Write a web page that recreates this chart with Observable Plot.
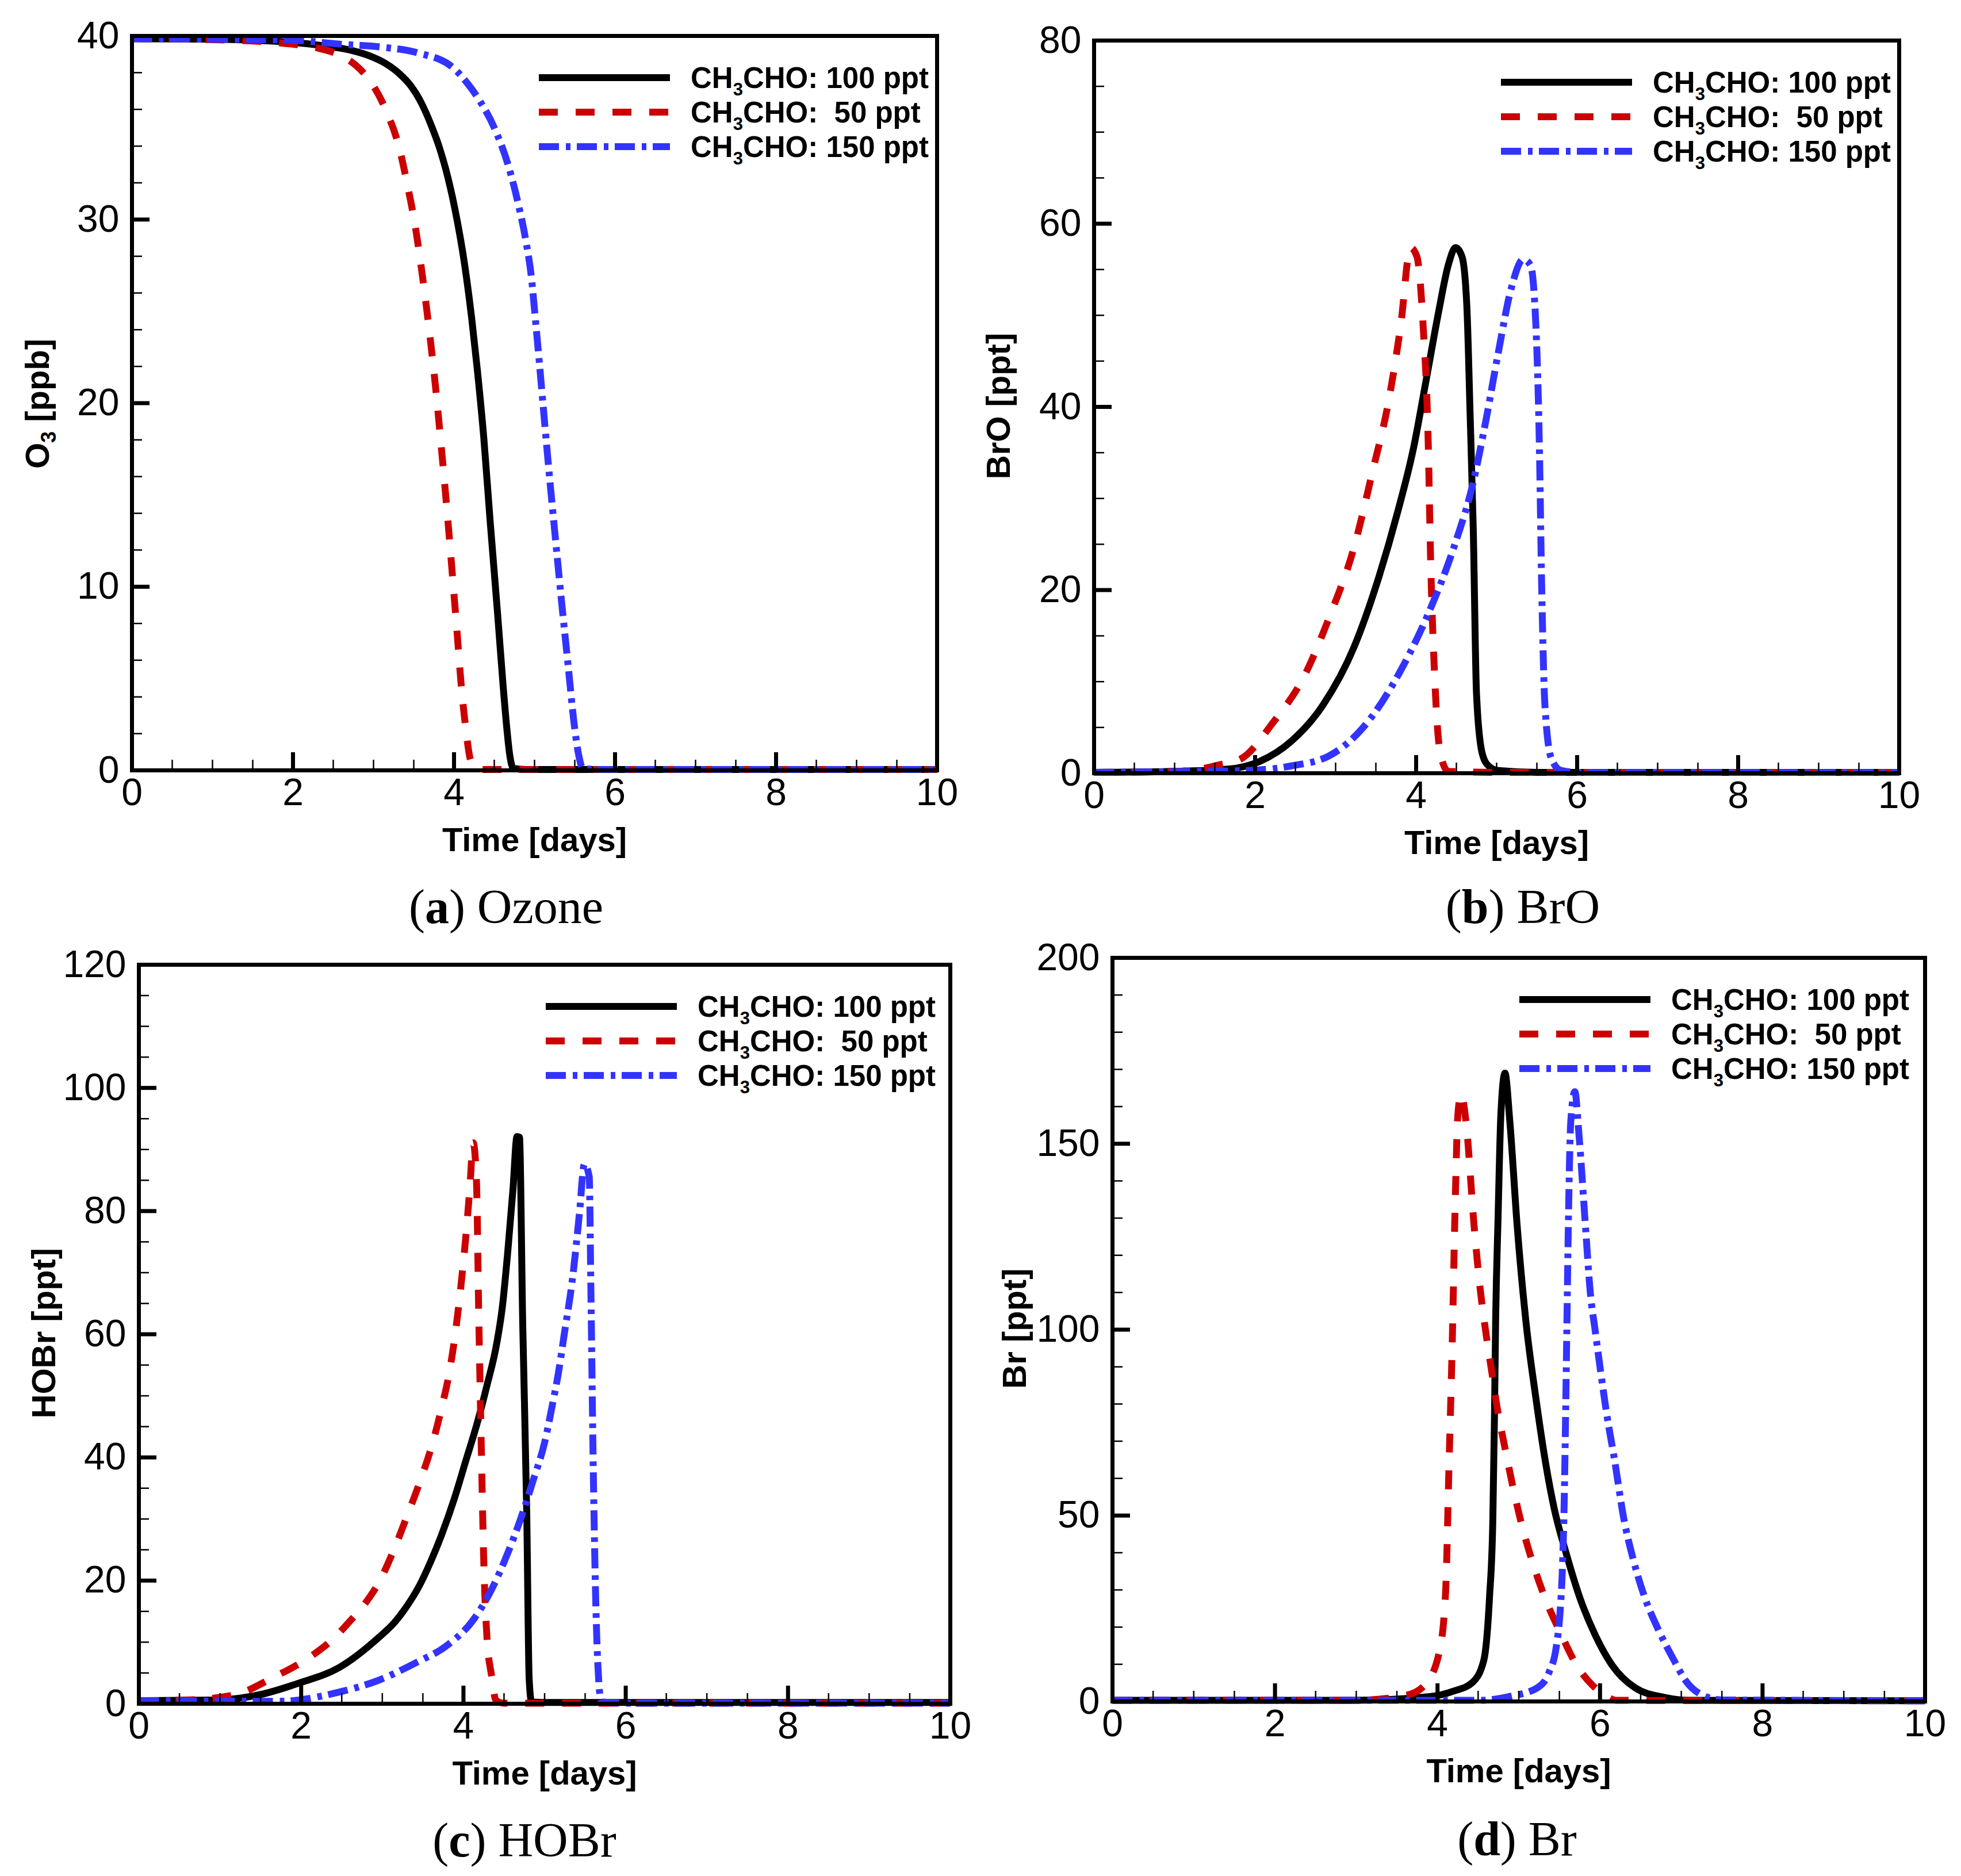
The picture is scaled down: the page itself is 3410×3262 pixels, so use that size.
<!DOCTYPE html>
<html><head><meta charset="utf-8">
<script src="https://cdn.jsdelivr.net/npm/d3@7"></script>
<script src="https://cdn.jsdelivr.net/npm/@observablehq/plot@0.6"></script>
<style>
body{margin:0;background:#fff;}
#fig{position:relative;width:3410px;height:3262px;background:#fff;overflow:hidden;}
#fig > svg{position:absolute;}
</style></head><body><div id="fig"></div>
<script>
// ---------- data (time in days, value) ----------
const o3_100 = [[0,39.85],[1,39.82],[2,39.65],[2.36,39.48],[2.72,39.22],[2.96,38.9],[3.15,38.5],[3.32,37.95],[3.46,37.3],[3.60,36.3],[3.72,35.1],[3.82,33.9],[3.9,32.7],[4.01,30.6],[4.13,27.6],[4.22,24.6],[4.29,21.8],[4.37,18.1],[4.45,13.5],[4.54,8.6],[4.61,4.6],[4.66,2.1],[4.69,0.9],[4.74,0.1],[4.9,0.05],[10,0.05]];
const o3_50  = [[0,39.85],[1,39.8],[2,39.55],[2.3,39.35],[2.58,38.96],[2.78,38.4],[2.94,37.65],[3.16,35.9],[3.32,33.9],[3.42,31.9],[3.52,29.6],[3.59,27.5],[3.65,25.5],[3.71,23.3],[3.77,20.9],[3.84,17.7],[3.92,13.8],[3.99,10.1],[4.04,7.4],[4.09,4.6],[4.14,2.5],[4.21,0.5],[4.3,0.05],[10,0.05]];
const o3_150 = [[0,39.85],[1.93,39.78],[2.6,39.55],[3.08,39.4],[3.56,39.07],[3.98,38.3],[4.17,37.4],[4.3,36.6],[4.51,34.9],[4.67,33.0],[4.79,31.0],[4.89,28.9],[4.96,26.9],[5.01,24.6],[5.06,22.2],[5.12,19.2],[5.19,15.8],[5.26,12.6],[5.34,9.0],[5.42,5.6],[5.49,2.6],[5.55,0.8],[5.6,0.1],[5.8,0.05],[10,0.05]];

const bro_100 = [[0,0.1],[1,0.2],[1.67,0.45],[2.06,1.3],[2.45,3.5],[2.84,7.4],[3.23,13.8],[3.54,21.5],[3.77,28.5],[3.97,35.6],[4.12,42.7],[4.28,50.4],[4.4,55.5],[4.49,57.4],[4.57,56.4],[4.63,51],[4.67,39.4],[4.71,26.6],[4.75,8.7],[4.82,2.2],[4.9,0.8],[5.02,0.3],[5.5,0.1],[10,0.1]];
const bro_50  = [[0,0.1],[1,0.2],[1.28,0.4],[1.55,0.9],[1.83,1.6],[2.22,5.5],[2.61,10.6],[2.92,17],[3.23,24.7],[3.46,33],[3.66,40.7],[3.81,49],[3.93,57.4],[4.01,56.4],[4.09,48.4],[4.15,36.2],[4.18,23.4],[4.23,10.6],[4.3,2.2],[4.4,0.2],[5,0.1],[10,0.1]];
const bro_150 = [[0,0.1],[1.2,0.2],[1.9,0.3],[2.45,0.8],[2.92,1.9],[3.39,5.5],[3.85,11.9],[4.16,17.6],[4.47,24.7],[4.71,31.8],[4.86,38.2],[5.02,45.9],[5.18,52.9],[5.33,56.1],[5.42,55.5],[5.49,48.4],[5.53,36.2],[5.56,20.2],[5.6,7.4],[5.68,1.6],[5.8,0.3],[6,0.1],[10,0.1]];

const hobr_100 = [[0,0.5],[0.96,0.6],[1.5,1.5],[1.96,3.3],[2.47,5.9],[2.95,10.7],[3.15,13.2],[3.3,15.8],[3.45,19.0],[3.6,23.2],[3.73,27.4],[3.89,33.4],[4.03,39.5],[4.17,45.6],[4.29,51.7],[4.41,58.5],[4.48,64.5],[4.55,74],[4.61,83.5],[4.66,92.1],[4.69,92],[4.73,62],[4.78,31],[4.81,4],[4.84,0.3],[5,0.2],[10,0.2]];
const hobr_50  = [[0,0.5],[0.58,0.6],[1.19,1.5],[1.66,4.3],[2.12,7.7],[2.4,10.6],[2.6,13.4],[2.8,16.5],[2.97,20.0],[3.13,24.6],[3.30,30.3],[3.47,36.3],[3.61,41.9],[3.73,48.0],[3.83,54.1],[3.90,60.2],[3.97,68],[4.03,76],[4.08,84],[4.12,91.1],[4.16,85],[4.19,62],[4.22,41.5],[4.25,23.3],[4.29,10.7],[4.35,4.3],[4.4,0.5],[4.5,0.1],[10,0.1]];
const hobr_150 = [[0,0.5],[1.73,0.4],[2.47,1.9],[2.95,3.8],[3.42,6.7],[3.80,9.5],[4.12,13.6],[4.36,18.9],[4.55,24.6],[4.72,30.6],[4.86,36.3],[5.00,42.4],[5.10,48.8],[5.17,53.7],[5.24,59.8],[5.35,69.7],[5.43,79.7],[5.49,87.6],[5.55,85.6],[5.57,67.8],[5.6,38],[5.65,8.2],[5.7,0.3],[6,0.1],[10,0.1]];

const br_100 = [[0,0.3],[2.98,0.3],[3.91,1.3],[4.2,2.8],[4.43,5.1],[4.57,11.1],[4.64,28.0],[4.68,48.1],[4.70,74.9],[4.715,101.8],[4.745,130],[4.78,158],[4.83,169],[4.89,156],[4.98,128],[5.09,101.8],[5.21,81.7],[5.33,64.2],[5.44,51.5],[5.58,40.1],[5.75,28.0],[5.94,17.9],[6.15,9.7],[6.43,3.7],[6.79,1.1],[7.1,0.3],[10,0.2]];
const br_50  = [[0,0.3],[2.98,0.3],[3.6,1.6],[3.83,4.1],[4.02,13.1],[4.1,29.6],[4.14,62.4],[4.18,95.2],[4.22,136.3],[4.25,157.6],[4.29,163.4],[4.35,156],[4.45,128],[4.53,110],[4.59,100],[4.67,88.3],[4.74,78.3],[4.83,68.2],[4.93,57.5],[5.03,48.1],[5.16,38.1],[5.32,28.0],[5.51,18.6],[5.73,9.1],[5.9,4.5],[6.06,1.7],[6.2,0.3],[10,0.2]];
const br_150 = [[0,0.3],[4.52,0.3],[4.90,1.4],[5.23,3.7],[5.37,7.7],[5.46,14.5],[5.51,24.6],[5.535,34.6],[5.56,54.8],[5.575,74.9],[5.59,97.7],[5.61,128],[5.64,156],[5.69,164],[5.74,152.7],[5.82,128],[5.88,110],[5.94,99.8],[6.01,88.3],[6.08,77.6],[6.18,64.8],[6.29,49.5],[6.41,38.1],[6.55,28.0],[6.72,19.2],[6.91,11.1],[7.05,5.7],[7.26,1.7],[7.5,0.4],[10,0.2]];

// ---------- ticks / labels ----------
const xMajor = [0,2,4,6,8,10];
const o3Major = [0,10,20,30,40];
const broMajor = [0,20,40,60,80];
const hobrMajor = [0,20,40,60,80,100,120];
const brMajor = [0,50,100,150,200];
const seriesLabels = ["100 ppt", " 50 ppt", "150 ppt"];
const seriesColors = ["#000000", "#cc0000", "#3333ff"];
const seriesDash = [null, "33,31", "35,12,8,11"];

const SANS = "'Liberation Sans', Arial, Helvetica, sans-serif";
const SERIF = "'Liberation Serif', 'Times New Roman', serif";

const panels = [
  {series:[o3_100,o3_50,o3_150], yMajor:o3Major, minorStep:2, frame:[229,62,1629,1339],
   yTitle:["O","3"," [ppb]"], yTitlePos:[64,702], cap:["a","Ozone"], capPos:[880,1605]},
  {series:[bro_100,bro_50,bro_150], yMajor:broMajor, minorStep:5, frame:[1902,70,3302,1344],
   yTitle:["BrO [ppt]"], yTitlePos:[1735,706], cap:["b","BrO"], capPos:[2648,1605]},
  {series:[hobr_100,hobr_50,hobr_150], yMajor:hobrMajor, minorStep:5, frame:[241,1677,1652,2962],
   yTitle:["HOBr [ppt]"], yTitlePos:[75,2318], cap:["c","HOBr"], capPos:[912,3228]},
  {series:[br_100,br_50,br_150], yMajor:brMajor, minorStep:10, frame:[1934,1665,3347,2958],
   yTitle:["Br [ppt]"], yTitlePos:[1763,2310], cap:["d","Br"], capPos:[2638,3226]}
];

const fig = document.getElementById("fig");
const mL = 220, mT = 60, mR = 70, mB = 170;

panels.forEach(p => {
  const [fx0, fy0, fx1, fy1] = p.frame;
  const fw = fx1 - fx0, fh = fy1 - fy0;
  const yMax = p.yMajor[p.yMajor.length - 1];
  const xMinor = d3.range(0.5, 10, 0.5).filter(v => v % 2 !== 0);
  const yMinor = d3.range(p.minorStep, yMax, p.minorStep).filter(v => !p.yMajor.includes(v));
  const lines = p.series.map((s, i) => Plot.line(s, {
    x: d => d[0], y: d => d[1], stroke: seriesColors[i], strokeWidth: 12,
    strokeDasharray: seriesDash[i] || undefined, strokeLinecap: "butt", strokeLinejoin: "round",
    curve: "monotone-x"
  }));
  const chart = Plot.plot({
    width: fw + mL + mR, height: fh + mT + mB,
    marginLeft: mL, marginRight: mR, marginTop: mT, marginBottom: mB,
    x: {domain: [0, 10]}, y: {domain: [0, yMax]},
    style: {fontFamily: SANS, fontSize: "66px", background: "transparent", overflow: "visible", color: "black"},
    marks: [
      ...lines,
      Plot.tickX(xMinor, {x: d => d, insetTop: fh - 18, strokeWidth: 2.5, stroke: "black"}),
      Plot.tickX(xMajor.slice(1, -1), {x: d => d, insetTop: fh - 31, strokeWidth: 7, stroke: "black"}),
      Plot.tickY(yMinor, {y: d => d, insetRight: fw - 18, strokeWidth: 2.5, stroke: "black"}),
      Plot.tickY(p.yMajor.slice(1, -1), {y: d => d, insetRight: fw - 31, strokeWidth: 7, stroke: "black"}),
      Plot.axisX({ticks: xMajor, tickSize: 0, tickPadding: 14, fontSize: 66, label: null, tickFormat: d => String(d)}),
      Plot.axisY({ticks: p.yMajor, tickSize: 0, tickPadding: 22, fontSize: 66, label: null, tickFormat: d => String(d)}),
      Plot.text(["Time [days]"], {text: d => d, frameAnchor: "bottom", dy: 122, fontSize: 58, fontWeight: "bold", lineAnchor: "middle", fill: "black"}),
      Plot.frame({stroke: "black", strokeWidth: 7})
    ]
  });
  chart.style.left = (fx0 - mL) + "px";
  chart.style.top = (fy0 - mT) + "px";
  fig.appendChild(chart);
});

// ---------- overlay: legends, y titles, captions ----------
const ov = d3.select(fig).append("svg")
  .attr("width", 3410).attr("height", 3262)
  .style("left", "0px").style("top", "0px").style("pointer-events", "none");

panels.forEach(p => {
  const [fx0, fy0] = p.frame;
  const lx = fx0 + 708, ly = fy0 + 73;
  seriesLabels.forEach((lab, i) => {
    const y = ly + i * 60;
    ov.append("line").attr("x1", lx).attr("x2", lx + 228).attr("y1", y).attr("y2", y)
      .attr("stroke", seriesColors[i]).attr("stroke-width", 12)
      .attr("stroke-dasharray", seriesDash[i]);
    const t = ov.append("text").attr("x", lx + 264).attr("y", y + 18)
      .attr("font-family", SANS).attr("font-weight", "bold").attr("font-size", 51)
      .attr("fill", "black").style("white-space", "pre");
    t.append("tspan").text("CH");
    t.append("tspan").attr("font-size", 31).attr("dy", 13).text("3");
    t.append("tspan").attr("dy", -13).text("CHO: " + lab);
  });
  // y title
  const [tx, ty] = p.yTitlePos;
  const yt = ov.append("text").attr("transform", `translate(${tx},${ty}) rotate(-90)`)
    .attr("text-anchor", "middle").attr("dy", "0.36em")
    .attr("font-family", SANS).attr("font-weight", "bold").attr("font-size", 58).attr("fill", "black");
  if (p.yTitle.length === 3) {
    yt.append("tspan").text(p.yTitle[0]);
    yt.append("tspan").attr("font-size", 36).attr("dy", 12).text(p.yTitle[1]);
    yt.append("tspan").attr("dy", -12).style("white-space", "pre").text(p.yTitle[2]);
  } else {
    yt.append("tspan").text(p.yTitle[0]);
  }
  // caption
  const [cx, cy] = p.capPos;
  const ct = ov.append("text").attr("x", cx).attr("y", cy).attr("text-anchor", "middle")
    .attr("font-family", SERIF).attr("font-size", 84).attr("fill", "black").style("white-space", "pre");
  ct.append("tspan").text("(");
  ct.append("tspan").attr("font-weight", "bold").text(p.cap[0]);
  ct.append("tspan").text(") " + p.cap[1]);
});
</script></body></html>
